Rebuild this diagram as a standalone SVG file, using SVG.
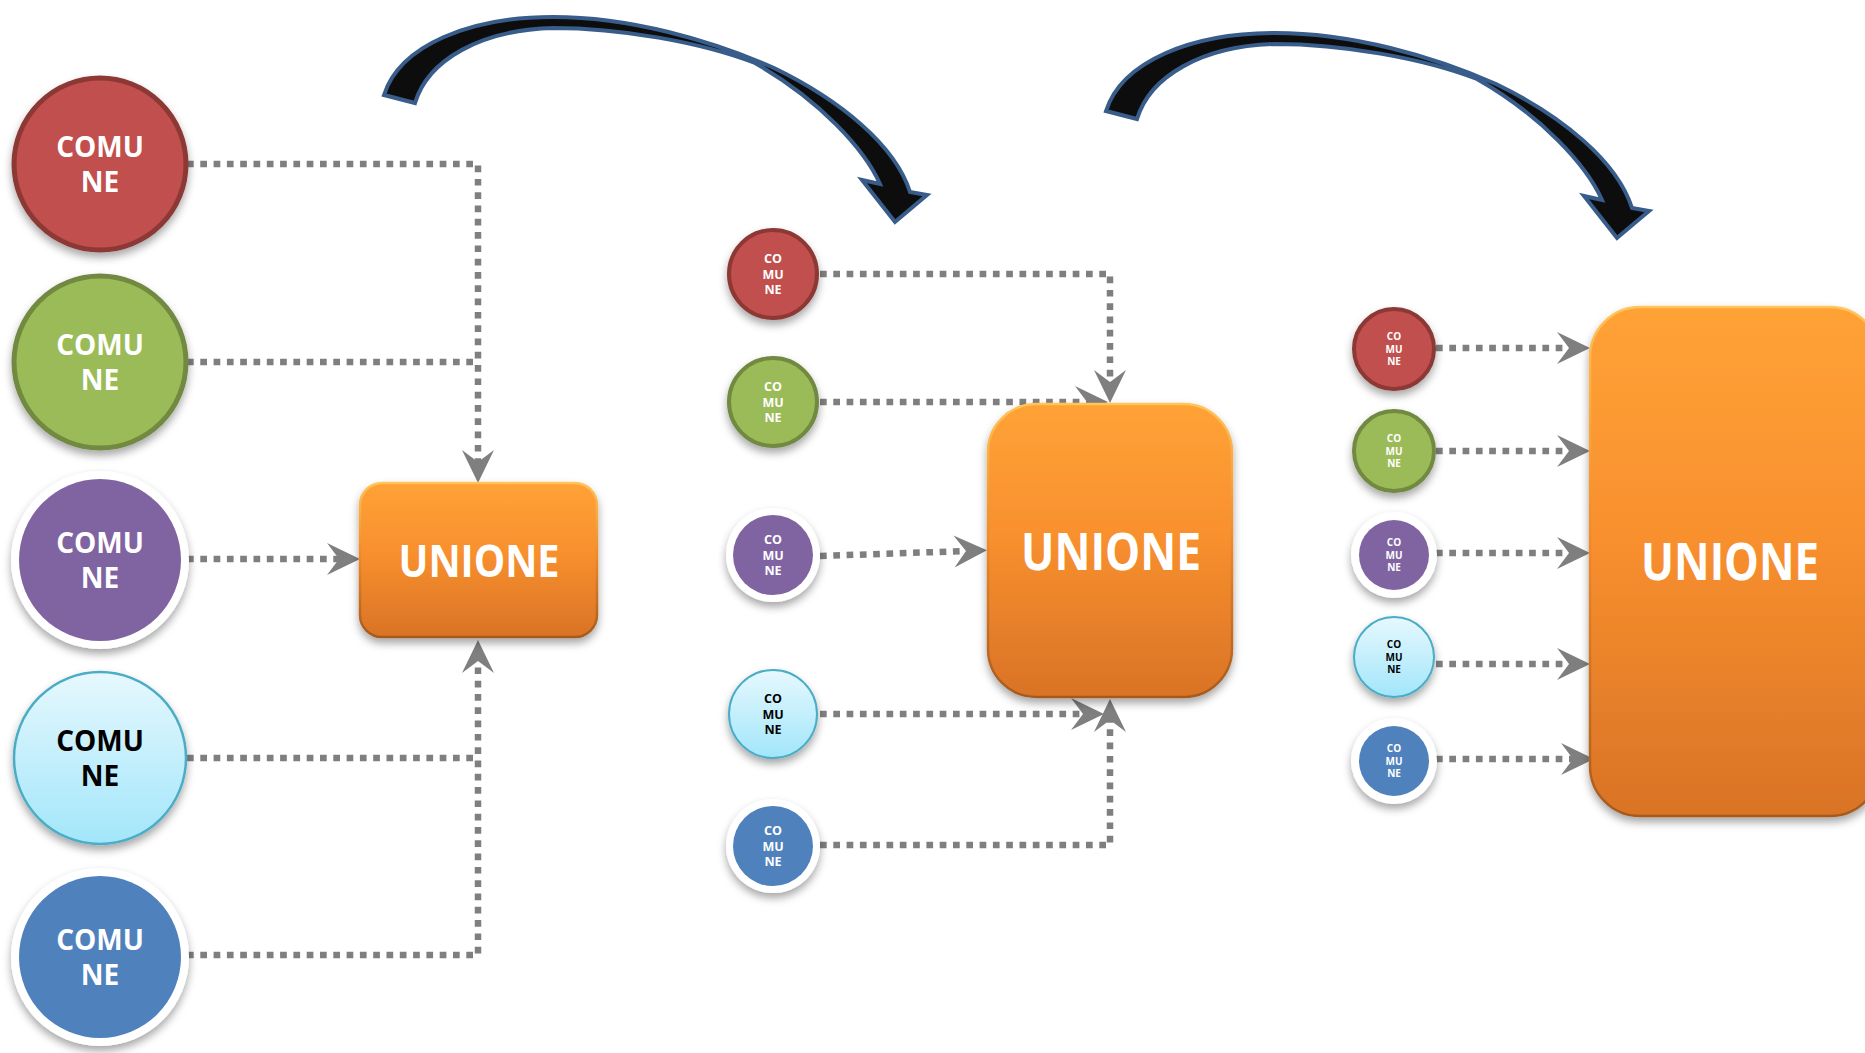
<svg xmlns="http://www.w3.org/2000/svg" width="1865" height="1053" viewBox="0 0 1865 1053">
<defs>
<style>
.dot{fill:none;stroke:#7F7F7F;stroke-width:6.5;stroke-dasharray:6.7 6.6;}
.arr{marker-end:url(#ah);}
.red{fill:#C0504D;stroke:#8C3836;}
.green{fill:#9BBB59;stroke:#71893F;}
.purple{fill:#8064A2;}
.blue{fill:#4F81BD;}
.cyan{fill:url(#gcyan);stroke:#4BACC6;}
.ring{fill:#FFFFFF;}
.box{fill:url(#gbox);stroke:url(#gboxs);stroke-width:2.5;}
.t{font-family:"Open Sans","Liberation Sans",sans-serif;font-weight:700;text-anchor:middle;fill:#FFFFFF;}
.tk{fill:#000000;}
.big{font-size:28px;}
.mid{font-size:12.5px;}
.sm{font-size:10px;}
.un{font-family:"Open Sans","Liberation Sans",sans-serif;font-weight:700;text-anchor:middle;fill:#FFFFFF;}
.curve{fill:#0D0D0D;stroke:#385D8A;stroke-width:4;stroke-linejoin:miter;}
</style>
<linearGradient id="gcyan" x1="0" y1="0" x2="0" y2="1">
<stop offset="0" stop-color="#E6F8FE"/>
<stop offset="1" stop-color="#A2E6FA"/>
</linearGradient>
<linearGradient id="gbox" x1="0" y1="0" x2="0" y2="1">
<stop offset="0" stop-color="#FFA236"/>
<stop offset="0.45" stop-color="#F8902E"/>
<stop offset="1" stop-color="#D97327"/>
</linearGradient>
<linearGradient id="gboxs" x1="0" y1="0" x2="0" y2="1">
<stop offset="0" stop-color="#FFC45A"/>
<stop offset="0.5" stop-color="#E9862C"/>
<stop offset="1" stop-color="#A55A1E"/>
</linearGradient>
<filter id="sh" x="-20%" y="-20%" width="140%" height="150%">
<feDropShadow dx="0" dy="5" stdDeviation="4" flood-color="#000000" flood-opacity="0.35"/>
</filter>
<marker id="ah" markerUnits="userSpaceOnUse" markerWidth="34" markerHeight="32" refX="12" refY="16" orient="auto" overflow="visible">
<path d="M0,0 L33,16 L0,32 L12,16 Z" fill="#7F7F7F"/>
</marker>
</defs>
<rect width="1865" height="1053" fill="#FFFFFF"/>

<g id="curved-arrows">
<path id="curve1" class="curve" d="M384,95 C400,45 470,17 553,17 C630,17 710,40 774,68 C840,100 895,145 910,192 L927,195 L895,222 L862,180 L880,184 C865,150 820,100 755,63 C700,42 620,28 553,28 C480,30 428,60 415,103 Z"/>
<path id="curve2" class="curve" transform="translate(722,16)" d="M384,95 C400,45 470,17 553,17 C630,17 710,40 774,68 C840,100 895,145 910,192 L927,195 L895,222 L862,180 L880,184 C865,150 820,100 755,63 C700,42 620,28 553,28 C480,30 428,60 415,103 Z"/>
</g>

<g id="connectors">
<path class="dot arr" d="M187,164 H478 V462"/>
<path class="dot" d="M187,362 H478"/>
<path class="dot arr" d="M187,559 H339"/>
<path class="dot" d="M187,758 H478"/>
<path class="dot arr" d="M187,955 H478 V661"/>

<path class="dot arr" d="M820,274 H1110 V382"/>
<path class="dot arr" d="M820,402 H1087"/>
<path class="dot arr" d="M820,556 L966,551"/>
<path class="dot arr" d="M820,714 H1083"/>
<path class="dot arr" d="M820,845 H1110 V720"/>

<path class="dot arr" d="M1436,348 H1569"/>
<path class="dot arr" d="M1436,451 H1569"/>
<path class="dot arr" d="M1436,553 H1569"/>
<path class="dot arr" d="M1436,664 H1569"/>
<path class="dot arr" d="M1436,759 H1573"/>
</g>

<!-- Left section -->
<g id="unione-1">
<rect class="box" x="360" y="483" width="237" height="154" rx="22" filter="url(#sh)"/>
<text class="un" x="479" y="577" font-size="44" textLength="161" lengthAdjust="spacingAndGlyphs">UNIONE</text>
</g>
<g id="comune-1-red">
<circle class="red" cx="100" cy="164" r="86" stroke-width="5" filter="url(#sh)"/>
<text class="t big" x="100" y="157">COMU</text>
<text class="t big" x="100" y="192">NE</text>
</g>
<g id="comune-1-green">
<circle class="green" cx="100" cy="362" r="86" stroke-width="5" filter="url(#sh)"/>
<text class="t big" x="100" y="355">COMU</text>
<text class="t big" x="100" y="390">NE</text>
</g>
<g id="comune-1-purple">
<circle class="ring" cx="100" cy="560" r="89" filter="url(#sh)"/>
<circle class="purple" cx="100" cy="560" r="81"/>
<text class="t big" x="100" y="553">COMU</text>
<text class="t big" x="100" y="588">NE</text>
</g>
<g id="comune-1-cyan">
<circle class="cyan" cx="100" cy="758" r="86" stroke-width="2.5" filter="url(#sh)"/>
<text class="t tk big" x="100" y="751">COMU</text>
<text class="t tk big" x="100" y="786">NE</text>
</g>
<g id="comune-1-blue">
<circle class="ring" cx="100" cy="957" r="89" filter="url(#sh)"/>
<circle class="blue" cx="100" cy="957" r="81"/>
<text class="t big" x="100" y="950">COMU</text>
<text class="t big" x="100" y="985">NE</text>
</g>

<!-- Middle section -->
<g id="unione-2">
<rect class="box" x="988" y="404" width="244" height="293" rx="48" filter="url(#sh)"/>
<text class="un" x="1111" y="570" font-size="52" textLength="180" lengthAdjust="spacingAndGlyphs">UNIONE</text>
</g>
<g id="comune-2-red">
<circle class="red" cx="773" cy="274" r="44" stroke-width="4" filter="url(#sh)"/>
<text class="t mid" x="773" y="263">CO</text>
<text class="t mid" x="773" y="278.5">MU</text>
<text class="t mid" x="773" y="294">NE</text>
</g>
<g id="comune-2-green">
<circle class="green" cx="773" cy="402" r="44" stroke-width="4" filter="url(#sh)"/>
<text class="t mid" x="773" y="391">CO</text>
<text class="t mid" x="773" y="406.5">MU</text>
<text class="t mid" x="773" y="422">NE</text>
</g>
<g id="comune-2-purple">
<circle class="ring" cx="773" cy="555" r="47" filter="url(#sh)"/>
<circle class="purple" cx="773" cy="555" r="40"/>
<text class="t mid" x="773" y="544">CO</text>
<text class="t mid" x="773" y="559.5">MU</text>
<text class="t mid" x="773" y="575">NE</text>
</g>
<g id="comune-2-cyan">
<circle class="cyan" cx="773" cy="714" r="44" stroke-width="2" filter="url(#sh)"/>
<text class="t tk mid" x="773" y="703">CO</text>
<text class="t tk mid" x="773" y="718.5">MU</text>
<text class="t tk mid" x="773" y="734">NE</text>
</g>
<g id="comune-2-blue">
<circle class="ring" cx="773" cy="846" r="47" filter="url(#sh)"/>
<circle class="blue" cx="773" cy="846" r="40"/>
<text class="t mid" x="773" y="835">CO</text>
<text class="t mid" x="773" y="850.5">MU</text>
<text class="t mid" x="773" y="866">NE</text>
</g>

<!-- Right section -->
<g id="unione-3">
<rect class="box" x="1590" y="307" width="290" height="509" rx="50" filter="url(#sh)"/>
<text class="un" x="1730" y="580" font-size="52" textLength="178" lengthAdjust="spacingAndGlyphs">UNIONE</text>
</g>
<g id="comune-3-red">
<circle class="red" cx="1394" cy="349" r="40" stroke-width="4" filter="url(#sh)"/>
<text class="t sm" x="1394" y="340">CO</text>
<text class="t sm" x="1394" y="353">MU</text>
<text class="t sm" x="1394" y="365">NE</text>
</g>
<g id="comune-3-green">
<circle class="green" cx="1394" cy="451" r="40" stroke-width="4" filter="url(#sh)"/>
<text class="t sm" x="1394" y="442">CO</text>
<text class="t sm" x="1394" y="455">MU</text>
<text class="t sm" x="1394" y="467">NE</text>
</g>
<g id="comune-3-purple">
<circle class="ring" cx="1394" cy="555" r="43" filter="url(#sh)"/>
<circle class="purple" cx="1394" cy="555" r="35"/>
<text class="t sm" x="1394" y="546">CO</text>
<text class="t sm" x="1394" y="559">MU</text>
<text class="t sm" x="1394" y="571">NE</text>
</g>
<g id="comune-3-cyan">
<circle class="cyan" cx="1394" cy="657" r="40" stroke-width="2" filter="url(#sh)"/>
<text class="t tk sm" x="1394" y="648">CO</text>
<text class="t tk sm" x="1394" y="661">MU</text>
<text class="t tk sm" x="1394" y="673">NE</text>
</g>
<g id="comune-3-blue">
<circle class="ring" cx="1394" cy="761" r="43" filter="url(#sh)"/>
<circle class="blue" cx="1394" cy="761" r="35"/>
<text class="t sm" x="1394" y="752">CO</text>
<text class="t sm" x="1394" y="765">MU</text>
<text class="t sm" x="1394" y="777">NE</text>
</g>
</svg>
